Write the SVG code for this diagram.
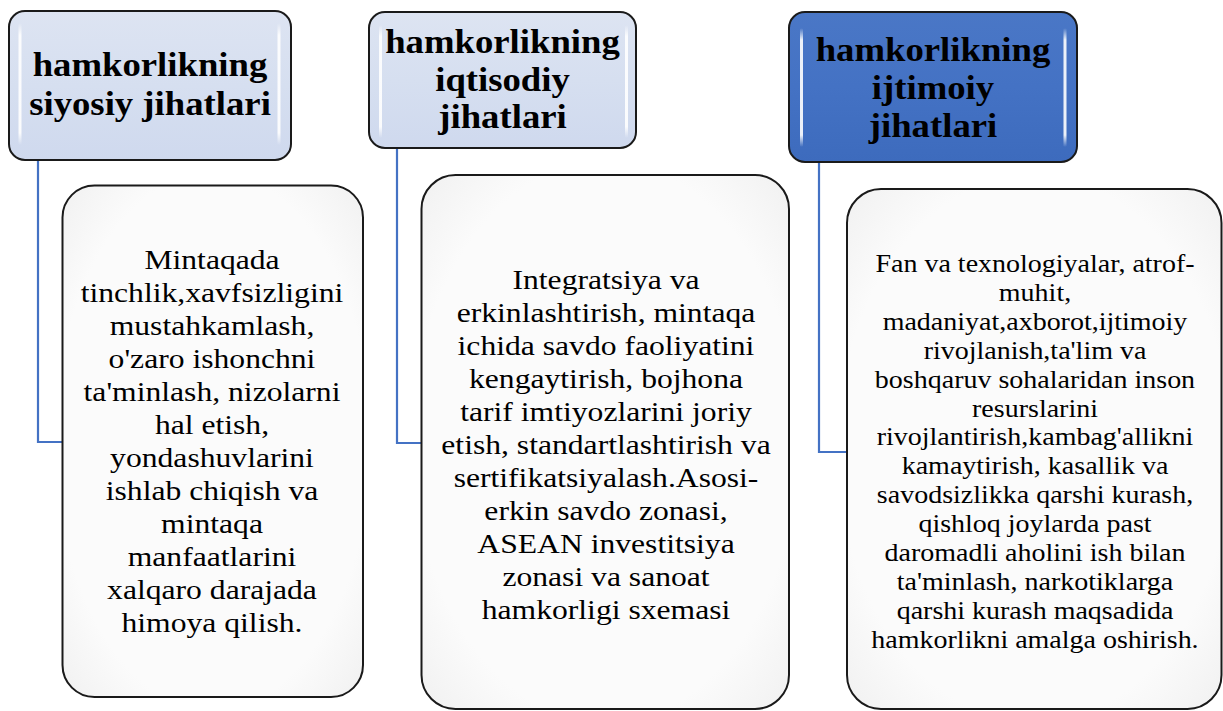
<svg xmlns="http://www.w3.org/2000/svg" width="1223" height="711" viewBox="0 0 1223 711">
<defs>
<linearGradient id="lightHead" x1="0" y1="0" x2="0" y2="1">
<stop offset="0" stop-color="#dde4f2"/>
<stop offset="0.5" stop-color="#d6dff0"/>
<stop offset="1" stop-color="#cfd9ee"/>
</linearGradient>
<linearGradient id="darkHead" x1="0" y1="0" x2="0" y2="1">
<stop offset="0" stop-color="#4a77c6"/>
<stop offset="0.5" stop-color="#4472c4"/>
<stop offset="1" stop-color="#3d6bbd"/>
</linearGradient>
<linearGradient id="gloss" x1="0" y1="0" x2="0" y2="1">
<stop offset="0" stop-color="#ffffff" stop-opacity="0"/>
<stop offset="0.1" stop-color="#ffffff" stop-opacity="0.9"/>
<stop offset="0.9" stop-color="#ffffff" stop-opacity="0.9"/>
<stop offset="1" stop-color="#ffffff" stop-opacity="0"/>
</linearGradient>
<radialGradient id="bodyFill" cx="0.5" cy="0.5" r="0.75">
<stop offset="0.7" stop-color="#fbfbfb"/>
<stop offset="1" stop-color="#eeeeee"/>
</radialGradient>
</defs>
<style>
.head{stroke:#1a1a1a;stroke-width:2}
.body{fill:url(#bodyFill);stroke:#1a1a1a;stroke-width:2}
.gl{fill:url(#gloss)}
.conn{fill:none;stroke:#4472c4;stroke-width:2.2}
</style>

<g id="connectors">
<path class="conn" d="M38 160 V442 H62"/>
<path class="conn" d="M397 148 V443 H421"/>
<path class="conn" d="M819 162 V452 H847"/>
</g>

<g id="head1">
<rect class="head" x="9" y="11" width="282" height="149" rx="16" fill="url(#lightHead)"/>
<rect class="gl" x="18.5" y="23" width="3" height="122" rx="1.5"/>
<rect class="gl" x="277.5" y="23" width="3" height="122" rx="1.5"/>
<g transform="translate(150 0) scale(1.08 1)" font-family="Liberation Serif, Times New Roman, serif" font-weight="bold" font-size="34" text-anchor="middle" fill="#000">
<text x="0" y="76">hamkorlikning</text>
<text x="0" y="115">siyosiy jihatlari</text>
</g>
</g>

<g id="head2">
<rect class="head" x="369" y="12" width="267" height="136" rx="16" fill="url(#lightHead)"/>
<rect class="gl" x="379" y="25" width="3" height="113" rx="1.5"/>
<rect class="gl" x="625" y="25" width="3" height="113" rx="1.5"/>
<g transform="translate(502.5 0) scale(1.08 1)" font-family="Liberation Serif, Times New Roman, serif" font-weight="bold" font-size="34" text-anchor="middle" fill="#000">
<text x="0" y="53">hamkorlikning</text>
<text x="0" y="91">iqtisodiy</text>
<text x="0" y="128">jihatlari</text>
</g>
</g>

<g id="head3">
<rect class="head" x="789" y="12" width="288" height="150" rx="16" fill="url(#darkHead)"/>
<rect class="gl" x="800" y="28" width="3" height="119" rx="1.5"/>
<rect class="gl" x="1063.5" y="28" width="3" height="119" rx="1.5"/>
<g transform="translate(933 0) scale(1.08 1)" font-family="Liberation Serif, Times New Roman, serif" font-weight="bold" font-size="34" text-anchor="middle" fill="#000">
<text x="0" y="61">hamkorlikning</text>
<text x="0" y="99">ijtimoiy</text>
<text x="0" y="137">jihatlari</text>
</g>
</g>

<g id="body1">
<rect class="body" x="62.5" y="185.5" width="300.5" height="511.5" rx="32"/>
<g transform="translate(212 0) scale(1.13 1)" font-family="Liberation Serif, Times New Roman, serif" font-size="28" text-anchor="middle" fill="#000">
<text x="0" y="269">Mintaqada</text>
<text x="0" y="302">tinchlik,xavfsizligini</text>
<text x="0" y="335">mustahkamlash,</text>
<text x="0" y="368">o'zaro ishonchni</text>
<text x="0" y="401">ta'minlash, nizolarni</text>
<text x="0" y="434">hal etish,</text>
<text x="0" y="467">yondashuvlarini</text>
<text x="0" y="500">ishlab chiqish va</text>
<text x="0" y="533">mintaqa</text>
<text x="0" y="566">manfaatlarini</text>
<text x="0" y="599">xalqaro darajada</text>
<text x="0" y="632">himoya qilish.</text>
</g>
</g>

<g id="body2">
<rect class="body" x="421.5" y="175" width="367.5" height="534" rx="34"/>
<g transform="translate(606 0) scale(1.13 1)" font-family="Liberation Serif, Times New Roman, serif" font-size="28" text-anchor="middle" fill="#000">
<text x="0" y="289">Integratsiya va</text>
<text x="0" y="322">erkinlashtirish, mintaqa</text>
<text x="0" y="355">ichida savdo faoliyatini</text>
<text x="0" y="388">kengaytirish, bojhona</text>
<text x="0" y="421">tarif imtiyozlarini joriy</text>
<text x="0" y="454">etish, standartlashtirish va</text>
<text x="0" y="487">sertifikatsiyalash.Asosi-</text>
<text x="0" y="520">erkin savdo zonasi,</text>
<text x="0" y="553">ASEAN investitsiya</text>
<text x="0" y="586">zonasi va sanoat</text>
<text x="0" y="619">hamkorligi sxemasi</text>
</g>
</g>

<g id="body3">
<rect class="body" x="847" y="189" width="374.5" height="520" rx="34"/>
<g transform="translate(1035 0) scale(1.12 1)" font-family="Liberation Serif, Times New Roman, serif" font-size="25" text-anchor="middle" fill="#000">
<text x="0" y="272">Fan va texnologiyalar, atrof-</text>
<text x="0" y="301">muhit,</text>
<text x="0" y="330">madaniyat,axborot,ijtimoiy</text>
<text x="0" y="359">rivojlanish,ta'lim va</text>
<text x="0" y="388">boshqaruv sohalaridan inson</text>
<text x="0" y="417">resurslarini</text>
<text x="0" y="445">rivojlantirish,kambag'allikni</text>
<text x="0" y="474">kamaytirish, kasallik va</text>
<text x="0" y="503">savodsizlikka qarshi kurash,</text>
<text x="0" y="532">qishloq joylarda past</text>
<text x="0" y="561">daromadli aholini ish bilan</text>
<text x="0" y="590">ta'minlash, narkotiklarga</text>
<text x="0" y="619">qarshi kurash maqsadida</text>
<text x="0" y="648">hamkorlikni amalga oshirish.</text>
</g>
</g>
</svg>
